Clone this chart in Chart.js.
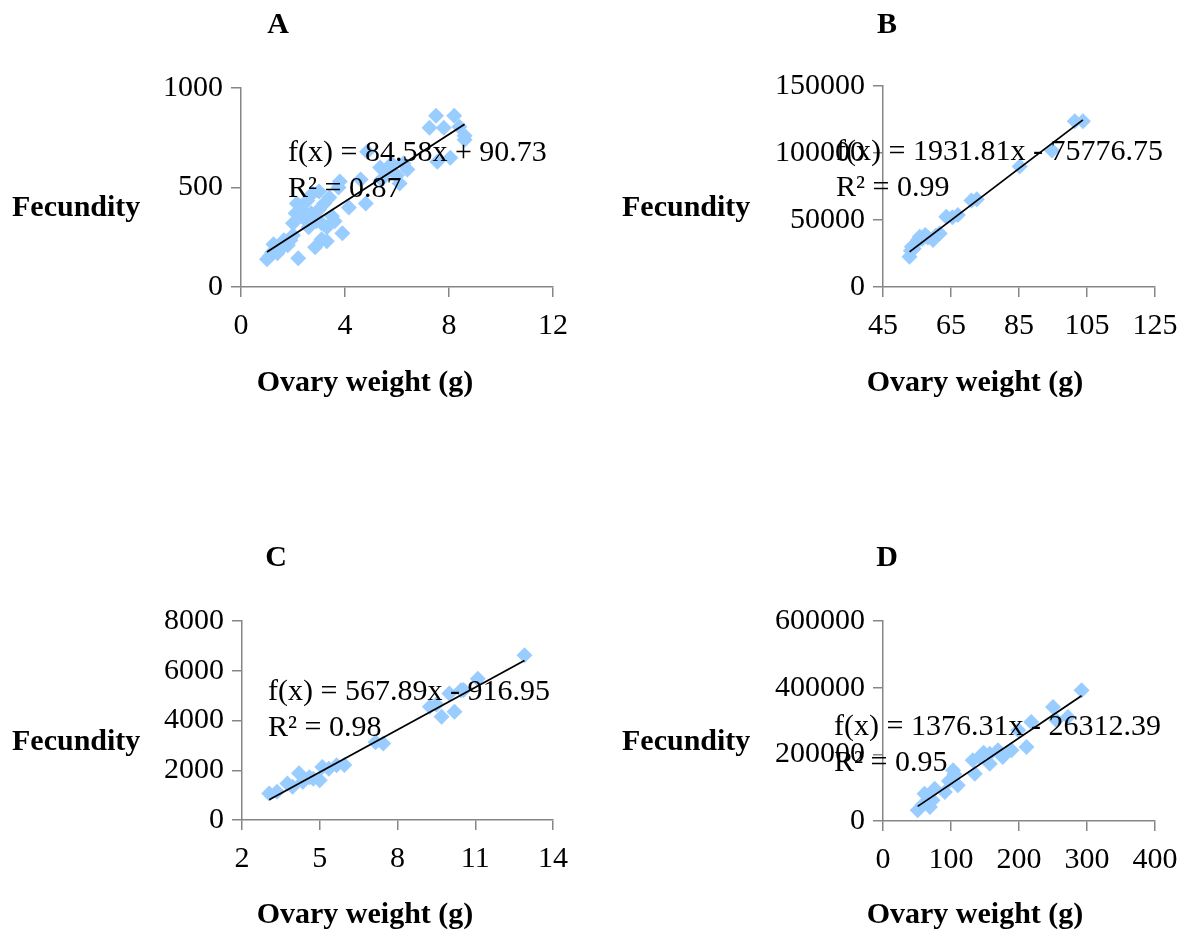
<!DOCTYPE html>
<html>
<head>
<meta charset="utf-8">
<title>Fecundity vs ovary weight</title>
<script src="https://cdn.jsdelivr.net/npm/chart.js@4.4.1/dist/chart.umd.min.js"></script>
<style>
  html, body { margin: 0; padding: 0; background: #ffffff; }
  #wrap { position: relative; width: 1185px; height: 937px; overflow: hidden; }
  canvas { position: absolute; }
</style>
</head>
<body>
<div id="wrap">
  <canvas id="cA" width="592" height="468" style="left:0;top:0"></canvas>
  <canvas id="cB" width="610" height="468" style="left:592px;top:0"></canvas>
  <canvas id="cC" width="592" height="469" style="left:0;top:468px"></canvas>
  <canvas id="cD" width="610" height="469" style="left:592px;top:468px"></canvas>
</div>
<script>
// Panel A
const aOvary = [1.0, 1.1, 1.2, 1.25, 1.4, 1.55, 1.65, 1.8, 1.9, 2.0, 2.0, 2.1, 2.15, 2.2, 2.3, 2.45, 2.55, 2.6, 2.7, 2.75, 2.85, 2.9, 3.0, 3.0, 3.1, 3.1, 3.2, 3.3, 3.3, 3.4, 3.5, 3.6, 3.75, 3.8, 3.9, 4.15, 4.6, 4.8, 4.85, 5.35, 5.4, 5.6, 5.8, 6.0, 6.1, 6.25, 6.4, 7.25, 7.5, 7.55, 7.8, 8.05, 8.2, 8.4, 8.6, 8.6];
const aFecundity = [140, 155, 175, 215, 170, 195, 235, 210, 235, 320, 260, 370, 420, 145, 390, 340, 435, 300, 370, 470, 200, 330, 390, 480, 240, 320, 420, 300, 230, 450, 355, 330, 500, 530, 270, 400, 540, 420, 680, 600, 540, 575, 620, 560, 520, 620, 590, 800, 860, 630, 800, 650, 860, 805, 760, 740];
const aTrend = { slope: 84.58, intercept: 90.73, r2: "0.87" };
const aTicksX = [0, 4, 8, 12];
const aTicksY = [0, 500, 1000];

// Panel B
const bOvary = [52.8, 53.2, 53.5, 54.0, 54.6, 55.3, 55.8, 56.6, 57.4, 58.2, 59.7, 60.6, 61.7, 63.6, 65.4, 67.0, 71.0, 72.6, 85.2, 94.7, 101.4, 103.8];
const bFecundity = [22500, 27000, 30000, 28500, 32500, 35000, 37500, 36000, 38800, 37000, 35000, 38500, 40000, 52500, 52000, 53800, 64500, 65500, 90000, 101800, 123700, 123700];
const bTrend = { slope: 1931.81, intercept: -75776.75, r2: "0.99" };
const bTicksX = [45, 65, 85, 105, 125];
const bTicksY = [0, 50000, 100000, 150000];

// Panel C
const cOvary = [3.05, 3.35, 3.75, 3.95, 4.2, 4.35, 4.6, 4.75, 5.0, 5.1, 5.35, 5.65, 5.95, 7.15, 7.45, 9.25, 9.5, 9.7, 10.0, 10.2, 10.45, 10.55, 11.1, 12.9];
const cFecundity = [1070, 1140, 1470, 1340, 1880, 1540, 1720, 1660, 1600, 2130, 2060, 2200, 2210, 3130, 3080, 4550, 4640, 4150, 5090, 4350, 5220, 5230, 5680, 6620];
const cTrend = { slope: 567.89, intercept: -916.95, r2: "0.98" };
const cTicksX = [2, 5, 8, 11, 14];
const cTicksY = [0, 2000, 4000, 6000, 8000];

// Panel D
const dOvary = [51, 58, 61, 69, 73, 76, 91, 97, 103, 105, 110, 132, 135, 142, 148, 157, 157, 169, 176, 189, 199, 211, 218, 250, 255, 272, 292];
const dFecundity = [32000, 48000, 82000, 42000, 62000, 97000, 87000, 120000, 152000, 140000, 107000, 182000, 142000, 192000, 205000, 172000, 202000, 212000, 192000, 212000, 272000, 222000, 297000, 342000, 302000, 312000, 392000];
const dTrend = { slope: 1376.31, intercept: -26312.39, r2: "0.95" };
const dTicksX = [0, 100, 200, 300, 400];
const dTicksY = [0, 200000, 400000, 600000];

const SERIF = "'Liberation Serif', 'Times New Roman', serif";
const AXIS_GREY = '#868686';
const MARKER = '#99ccff';

function fmtCoef(v) {
  return v.toFixed(2);
}
function equationText(t) {
  const sign = t.intercept < 0 ? ' - ' : ' + ';
  return 'f(x) = ' + fmtCoef(t.slope) + 'x' + sign + fmtCoef(Math.abs(t.intercept));
}

// Draws the panel letter, horizontal axis titles and the regression label on top of the plot.
const panelText = {
  id: 'panelText',
  afterDraw(chart, args, o) {
    const ctx = chart.ctx;
    ctx.save();
    ctx.fillStyle = '#000000';
    ctx.textBaseline = 'middle';

    ctx.font = 'bold 30px ' + SERIF;
    ctx.textAlign = 'center';
    ctx.fillText(o.letter, o.letterX, o.letterY);

    ctx.textAlign = 'left';
    ctx.fillText('Fecundity', o.yTitleX, o.yTitleY);

    ctx.textAlign = 'center';
    ctx.fillText('Ovary weight (g)', o.xTitleX, o.xTitleY);

    ctx.font = '30px ' + SERIF;
    ctx.textAlign = 'left';
    ctx.fillText(equationText(o.trend), o.eqX, o.eqY);
    ctx.fillText('R\u00B2 = ' + o.trend.r2, o.eqX, o.eqY + 36);
    ctx.restore();
  }
};

function makePanel(id, xs, ys, trend, ticksX, ticksY, area, text) {
  const canvas = document.getElementById(id);
  const W = canvas.width, H = canvas.height;
  const points = xs.map((x, i) => ({ x: x, y: ys[i] }));
  const xMin = Math.min(...xs), xMax = Math.max(...xs);
  const trendLine = [
    { x: xMin, y: trend.slope * xMin + trend.intercept },
    { x: xMax, y: trend.slope * xMax + trend.intercept }
  ];

  const axisCommon = (ticks) => ({
    type: 'linear',
    min: ticks[0],
    max: ticks[ticks.length - 1],
    afterBuildTicks: (scale) => { scale.ticks = ticks.map(v => ({ value: v })); },
    grid: { display: true, drawOnChartArea: false, drawTicks: true, tickLength: 10, color: AXIS_GREY, lineWidth: 1.5 },
    border: { display: true, color: AXIS_GREY, width: 1.5 },
    ticks: {
      color: '#000000',
      font: { family: SERIF, size: 30 },
      callback: (v) => String(v),
      autoSkip: false,
      maxRotation: 0,
      minRotation: 0
    }
  });

  const xAxis = axisCommon(ticksX);
  xAxis.ticks.padding = 11;
  xAxis.afterFit = (scale) => { scale.height = H - area.bottom; };
  const yAxis = axisCommon(ticksY);
  yAxis.ticks.padding = 8;
  yAxis.afterFit = (scale) => { scale.width = area.left; };

  return new Chart(canvas, {
    type: 'scatter',
    data: {
      datasets: [
        {
          type: 'line',
          data: trendLine,
          borderColor: '#000000',
          borderWidth: 1.8,
          pointRadius: 0,
          fill: false,
          order: 0
        },
        {
          data: points,
          backgroundColor: MARKER,
          borderWidth: 0,
          pointStyle: 'rectRot',
          pointRadius: 8,
          pointHoverRadius: 8,
          order: 1
        }
      ]
    },
    options: {
      responsive: false,
      animation: false,
      devicePixelRatio: 1,
      layout: { padding: { left: 0, top: area.top, right: W - area.right, bottom: 0 } },
      scales: { x: xAxis, y: yAxis },
      plugins: {
        legend: { display: false },
        tooltip: { enabled: false },
        panelText: text
      },
      events: []
    },
    plugins: [panelText]
  });
}

makePanel('cA', aOvary, aFecundity, aTrend, aTicksX, aTicksY,
  { left: 241, right: 553, top: 88, bottom: 287 },
  { letter: 'A', letterX: 278, letterY: 25, yTitleX: 12, yTitleY: 208, xTitleX: 365, xTitleY: 383, trend: aTrend, eqX: 288, eqY: 153 });

makePanel('cB', bOvary, bFecundity, bTrend, bTicksX, bTicksY,
  { left: 291, right: 563, top: 86, bottom: 287 },
  { letter: 'B', letterX: 295, letterY: 25, yTitleX: 30, yTitleY: 208, xTitleX: 383, xTitleY: 383, trend: bTrend, eqX: 244, eqY: 152 });

makePanel('cC', cOvary, cFecundity, cTrend, cTicksX, cTicksY,
  { left: 242, right: 553, top: 153, bottom: 352 },
  { letter: 'C', letterX: 276, letterY: 90, yTitleX: 12, yTitleY: 274, xTitleX: 365, xTitleY: 447, trend: cTrend, eqX: 268, eqY: 224 });

makePanel('cD', dOvary, dFecundity, dTrend, dTicksX, dTicksY,
  { left: 291, right: 563, top: 153, bottom: 353 },
  { letter: 'D', letterX: 295, letterY: 90, yTitleX: 30, yTitleY: 274, xTitleX: 383, xTitleY: 447, trend: dTrend, eqX: 242, eqY: 259 });
</script>
</body>
</html>
